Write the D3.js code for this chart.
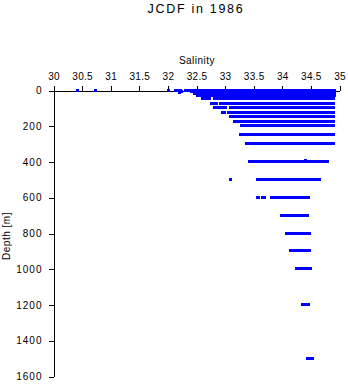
<!DOCTYPE html>
<html>
<head>
<meta charset="utf-8">
<script src="https://cdn.jsdelivr.net/npm/d3@7"></script>
<style>
  html, body { margin: 0; padding: 0; background: #fff; }
  svg { display: block; font-family: "Liberation Sans", Arial, sans-serif; }
</style>
</head>
<body>
<svg id="chart" width="348" height="384"></svg>
<script>
// Standard depths (m) at which salinity was sampled
const depthLevels = [0, 10, 20, 30, 50, 75, 100, 125, 150, 175, 200, 250, 300, 400, 500, 600, 700, 800, 900, 1000, 1200, 1500];
// Observed salinity ranges [min, max] at each depth (single points have min == max)
const salinityRanges = [
  [[30.43, 30.43], [30.75, 30.75], [32.02, 32.02], [32.14, 32.23], [32.31, 32.40], [32.44, 34.93]],
  [[32.22, 32.24], [32.42, 34.93]],
  [[32.48, 34.93]],
  [[32.53, 32.60], [32.62, 34.93]],
  [[32.62, 32.73], [32.83, 34.90]],
  [[32.77, 32.86], [32.92, 32.95], [33.00, 33.39], [33.43, 34.90]],
  [[32.83, 32.95], [32.97, 33.01], [33.10, 34.90]],
  [[32.97, 33.00], [33.06, 34.20], [34.23, 34.90]],
  [[33.11, 33.16], [33.18, 33.23], [33.25, 33.58], [33.62, 34.90]],
  [[33.18, 34.28], [34.32, 34.90]],
  [[33.29, 33.97], [33.99, 34.90]],
  [[33.27, 34.90]],
  [[33.39, 34.90]],
  [[33.44, 34.80]],
  [[33.10, 33.10], [33.58, 33.62], [33.67, 34.60], [34.63, 34.66]],
  [[33.58, 33.60], [33.66, 33.69], [33.82, 34.47]],
  [[34.00, 34.45]],
  [[34.09, 34.48]],
  [[34.16, 34.48]],
  [[34.25, 34.51]],
  [[34.36, 34.46]],
  [[34.45, 34.53]]
];
// Isolated off-level observations [salinity, depth]
const extraSalinity = [34.42, 32.21];
const extraDepth = [392, 16];

const salinityTicks = [30, 30.5, 31, 31.5, 32, 32.5, 33, 33.5, 34, 34.5, 35];
const depthTicks = [0, 200, 400, 600, 800, 1000, 1200, 1400, 1600];

const svg = d3.select("#chart");
const x = d3.scaleLinear().domain([30, 35]).range([53, 339]);
const y = d3.scaleLinear().domain([0, 1600]).range([90, 376]);

// Title
svg.append("text").attr("x", 196).attr("y", 13).attr("text-anchor", "middle")
  .attr("font-size", 12.5).attr("letter-spacing", 1.7).text("JCDF in 1986");

// X label
svg.append("text").attr("x", 197).attr("y", 64).attr("text-anchor", "middle")
  .attr("font-size", 10).attr("letter-spacing", 0.5).text("Salinity");

// Y label
svg.append("text").attr("transform", "translate(10,236) rotate(-90)")
  .attr("text-anchor", "middle").attr("font-size", 10).attr("letter-spacing", 0.5).text("Depth [m]");

// Axes
const xAxis = d3.axisTop(x).tickValues(salinityTicks).tickSize(5).tickSizeOuter(0).tickPadding(6)
  .tickFormat(d3.format(""));
const gx = svg.append("g").attr("transform", "translate(0.5,90.5)").call(xAxis);
gx.selectAll("text").attr("font-size", 10).attr("font-family", "Liberation Sans, Arial, sans-serif").attr("letter-spacing", 0.3);

const yAxis = d3.axisLeft(y).tickValues(depthTicks).tickSize(5).tickSizeOuter(0).tickPadding(6)
  .tickFormat(d3.format(""));
const gy = svg.append("g").attr("transform", "translate(53.5,0.5)").call(yAxis);
gy.selectAll("text").attr("font-size", 10).attr("font-family", "Liberation Sans, Arial, sans-serif").attr("letter-spacing", 1);

svg.selectAll(".domain, .tick line").attr("stroke", "#000").attr("shape-rendering", "crispEdges");

// Data marks
const rows = [];
depthLevels.forEach((d, i) => salinityRanges[i].forEach(r => rows.push({ depth: d, s0: r[0], s1: r[1] })));
extraSalinity.forEach((s, i) => rows.push({ depth: extraDepth[i], s0: s, s1: s }));

svg.append("g").selectAll("rect").data(rows).join("rect")
  .attr("x", d => x(d.s0) - 1.5)
  .attr("y", d => y(d.depth) - 1.5)
  .attr("width", d => x(d.s1) - x(d.s0) + 3)
  .attr("height", 3)
  .attr("fill", "#0000ff")
  .attr("shape-rendering", "crispEdges");
</script>
</body>
</html>
